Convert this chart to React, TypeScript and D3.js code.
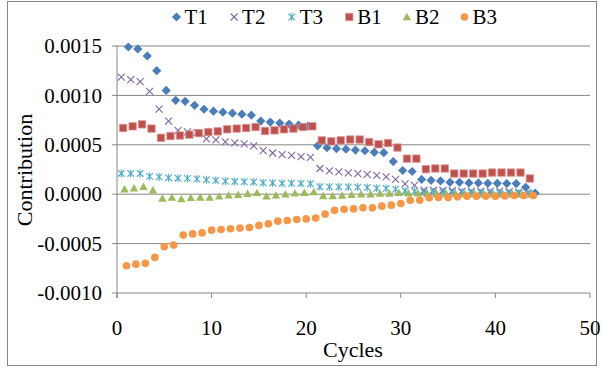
import React from "react";
import * as d3 from "d3";

const W = 603;
const H = 369;
const margin = { top: 46, right: 13, bottom: 76, left: 117 };
const font = "'Liberation Serif', 'Times New Roman', Times, serif";

// cycle of the first reading of each series (readings then follow every cycle)
const seriesNames = ["T1", "T2", "T3", "B1", "B2", "B3"];
const firstCycle = [1.2, 0.45, 0.45, 0.65, 0.8, 1.0];

const T1 = [
  0.00149, 0.00147, 0.0014, 0.00125, 0.00105, 0.00095, 0.00094, 0.0009, 0.00086, 0.00084,
  0.00083, 0.00082, 0.00081, 0.0008, 0.00074, 0.00073, 0.00072, 0.00071, 0.0007, 0.00069,
  0.00049, 0.00047, 0.00046, 0.000455, 0.000447, 0.00044, 0.000424, 0.00042, 0.00033, 0.00024,
  0.00023, 0.00015, 0.00014, 0.000134, 0.00012, 0.00012, 0.000114, 0.000114, 0.00011, 0.00011,
  0.000108, 0.000108, 0.00007, 0.00001,
];
const T2 = [
  0.001185, 0.00116, 0.00114, 0.00104, 0.00086, 0.00074, 0.000646, 0.00063, 0.000623, 0.00056,
  0.00055, 0.00053, 0.00052, 0.00051, 0.00049, 0.00044, 0.000417, 0.0004, 0.000394, 0.00038,
  0.000372, 0.00026, 0.000235, 0.000225, 0.000215, 0.000209, 0.0002, 0.00019, 0.000175, 0.00015,
  0.000105, 0.00009, 0.00004, 0.00004, 0.00004, 0.000035, 0.00003, 0.00003, 0.00003, 0.00003,
  0.00003, 0.000025, 0.00002, 0.000015,
];
const T3 = [
  0.00021, 0.00021, 0.00021, 0.00018, 0.000175, 0.000167, 0.000162, 0.00016, 0.000155, 0.000146,
  0.00014, 0.000131, 0.000128, 0.000126, 0.000124, 0.000116, 0.000114, 0.000111, 0.000111, 0.000108,
  0.000106, 0.000075, 0.000074, 0.000074, 0.000073, 0.000072, 0.000068, 0.00006, 0.000058, 0.00005,
  0.000033, 0.00003, 0.00002, 0.00002, 0.00002, 0.000018, 0.000018, 0.000015, 0.000015, 0.000012,
  0.000012, 0.00001, 0.00001, 0.000008,
];
const B1 = [
  0.00067, 0.000687, 0.000707, 0.000664, 0.000571, 0.000589, 0.000594, 0.000603, 0.000618, 0.000629,
  0.000636, 0.000657, 0.000664, 0.00067, 0.00068, 0.00064, 0.000646, 0.000657, 0.000664, 0.00068,
  0.000687, 0.000545, 0.000535, 0.000545, 0.000553, 0.000553, 0.000528, 0.000505, 0.000518, 0.000472,
  0.00036, 0.00036, 0.000253, 0.00026, 0.00026, 0.000209, 0.000209, 0.000209, 0.000209, 0.000219,
  0.000219, 0.000219, 0.000219, 0.000159,
];
const B2 = [
  0.00005, 0.00006, 0.000075, 0.00004, -0.000043, -0.000033, -0.00005, -0.000037, -0.000033, -0.000035,
  -0.000022, -0.000012, -0.000005, 0.000005, 0.000013, -0.00002, -0.000012, -0.000002, 0.000008, 0.000015,
  0.000022, -0.000018, -0.000018, -0.000013, -0.000007, 0, 0, 0.000007, 0.000007, 0.000013,
  0.00001, 0.00001, 0.000005, 0.000005, 0.000003, 0.000003, 0.000002, 0.000002, 0, 0,
  0, 0, 0, 0,
];
const B3 = [
  -0.000724, -0.000708, -0.0007, -0.00064, -0.000532, -0.000515, -0.000414, -0.000402, -0.000392, -0.000364,
  -0.000357, -0.00035, -0.000343, -0.000337, -0.000316, -0.0003, -0.000273, -0.000266, -0.000256, -0.00025,
  -0.000242, -0.000202, -0.000163, -0.000153, -0.000148, -0.000138, -0.000138, -0.000121, -0.000111, -0.000094,
  -0.000061, -0.000061, -0.000037, -0.000034, -0.000034, -0.000027, -0.00002, -0.00002, -0.00002, -0.00002,
  -0.000017, -0.000013, -0.000013, -0.000013,
];

const xTicks = [0, 10, 20, 30, 40, 50];
const yTicks = [-0.001, -0.0005, 0, 0.0005, 0.001, 0.0015];

const seriesValues = [T1, T2, T3, B1, B2, B3];
const colors = ["#4A7EBB", "#8064A2", "#4BACC6", "#C0504D", "#9BBB59", "#F79646"];

const fmt = d3
  .formatLocale({ decimal: ".", thousands: ",", grouping: [3], currency: ["", ""], minus: "-" })
  .format(".4f");

// marker glyphs, Excel style
const markerPath = (kind: string): string => {
  switch (kind) {
    case "diamond":
      return "M0,-4.6L4.6,0L0,4.6L-4.6,0Z";
    case "x":
      return "M-3.5,-3.5L3.5,3.5M-3.5,3.5L3.5,-3.5";
    case "star":
      return "M-3.3,-3.3L3.3,3.3M-3.3,3.3L3.3,-3.3M0,-4L0,4";
    case "square":
      return "M-3.7,-3.7H3.7V3.7H-3.7Z";
    case "triangle":
      return "M0,-4.2L4.2,3.2L-4.2,3.2Z";
    default:
      return d3.symbol(d3.symbolCircle, 46)() || "";
  }
};
const kinds = ["diamond", "x", "star", "square", "triangle", "circle"];

const Marker = ({ kind, color, x, y }: { kind: string; color: string; x: number; y: number }) => {
  const stroked = kind === "x" || kind === "star";
  return (
    <path
      d={markerPath(kind)}
      transform={`translate(${x},${y})`}
      fill={stroked ? "none" : color}
      stroke={stroked ? color : kind === "square" ? "#D99694" : "none"}
      strokeWidth={stroked ? 1.1 : 0.8}
    />
  );
};

export default function App() {
  const x = d3.scaleLinear().domain([0, 50]).range([margin.left, W - margin.right]);
  const y = d3.scaleLinear().domain([-0.001, 0.0015]).range([H - margin.bottom, margin.top]);
  const x0 = x.range()[0];
  const x1 = x.range()[1];
  const yBottom = y(-0.001);
  const axisColor = "#868686";

  return (
    <svg width={W} height={H} style={{ position: "absolute", left: 0, top: 0, background: "#fff" }}>
      <rect x={7.5} y={1.5} width={589} height={364} fill="#fff" stroke={axisColor} strokeWidth={1} />

      {/* gridlines */}
      {yTicks.slice(1).map((t) => (
        <line key={t} x1={x0 - 5} x2={x1} y1={y(t)} y2={y(t)} stroke={axisColor} strokeWidth={1} />
      ))}

      {/* axes */}
      <line x1={x0 - 5} x2={x1} y1={yBottom} y2={yBottom} stroke={axisColor} />
      <line x1={x0} x2={x0} y1={y(0.0015)} y2={yBottom + 5} stroke={axisColor} />
      {xTicks.map((t) => (
        <line key={t} x1={x(t)} x2={x(t)} y1={yBottom} y2={yBottom + 5} stroke={axisColor} />
      ))}

      {/* tick labels */}
      {yTicks.map((t) => (
        <text key={t} x={x0 - 15} y={y(t)} dy="0.34em" textAnchor="end" fontFamily={font} fontSize={21}>
          {fmt(t)}
        </text>
      ))}
      {xTicks.map((t) => (
        <text key={t} x={x(t)} y={335} textAnchor="middle" fontFamily={font} fontSize={21}>
          {t}
        </text>
      ))}

      <text x={353} y={357} textAnchor="middle" fontFamily={font} fontSize={22}>
        Cycles
      </text>
      <text transform="translate(32,170) rotate(-90)" textAnchor="middle" fontFamily={font} fontSize={22}>
        Contribution
      </text>

      {/* series */}
      {seriesValues.map((vals, s) => (
        <g key={seriesNames[s]}>
          {vals.map((v, i) => (
            <Marker key={i} kind={kinds[s]} color={colors[s]} x={x(firstCycle[s] + i)} y={y(v)} />
          ))}
        </g>
      ))}

      {/* legend */}
      {seriesNames.map((name, s) => {
        const lx = 176.5 + s * 57.6;
        return (
          <g key={name}>
            <Marker kind={kinds[s]} color={colors[s]} x={lx} y={17} />
            <text x={lx + 8} y={17} dy="0.34em" fontFamily={font} fontSize={21}>
              {name}
            </text>
          </g>
        );
      })}
    </svg>
  );
}
